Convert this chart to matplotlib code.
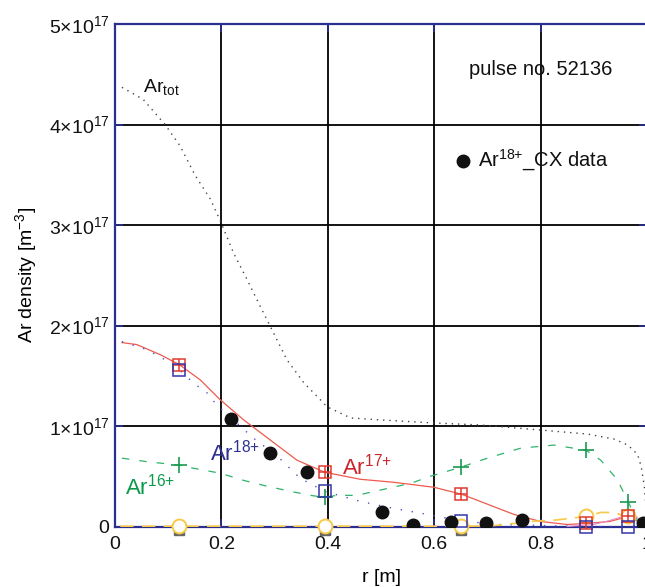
import matplotlib
matplotlib.use("Agg")
import matplotlib.pyplot as plt

plt.rcParams['font.family'] = ['Liberation Sans', 'DejaVu Sans']
plt.rcParams['mathtext.fontset'] = 'custom'
plt.rcParams['mathtext.rm'] = 'Liberation Sans'
plt.rcParams['mathtext.it'] = 'Liberation Sans:italic'
plt.rcParams['mathtext.bf'] = 'Liberation Sans:bold'

# ---------------- data (densities in units of 1e17 m^-3) ----------------
r_tot = [0.013, 0.053, 0.094, 0.122, 0.151, 0.179, 0.198, 0.223, 0.248, 0.273, 0.292,
         0.323, 0.355, 0.399, 0.443, 0.5, 0.6, 0.687, 0.8, 0.888, 0.938, 0.964,
         0.982, 0.989, 0.995, 0.998]
ar_tot = [4.37, 4.25, 4.0, 3.79, 3.49, 3.26, 3.04, 2.72, 2.46, 2.19, 1.99,
          1.66, 1.43, 1.19, 1.08, 1.06, 1.03, 1.01, 0.96, 0.92, 0.87, 0.81,
          0.72, 0.6, 0.4, 0.2]

r_17 = [0.013, 0.041, 0.085, 0.121, 0.16, 0.198, 0.242, 0.292, 0.342, 0.394, 0.461,
        0.524, 0.6, 0.652, 0.706, 0.75, 0.80, 0.85, 0.885, 0.93, 0.965, 0.99]
ar_17 = [1.83, 1.81, 1.71, 1.61, 1.46, 1.26, 1.06, 0.86, 0.66, 0.54, 0.47,
         0.44, 0.39, 0.32, 0.21, 0.12, 0.05, 0.02, 0.03, 0.05, 0.10, 0.03]

r_18 = [0.013, 0.06, 0.104, 0.121, 0.147, 0.173, 0.191, 0.235, 0.26, 0.305, 0.348,
        0.394, 0.461, 0.524, 0.593, 0.651, 0.72, 0.8, 0.885, 0.965, 0.99]
ar_18 = [1.84, 1.76, 1.63, 1.56, 1.43, 1.33, 1.21, 1.0, 0.88, 0.70, 0.48,
         0.35, 0.25, 0.18, 0.115, 0.055, 0.02, 0.01, 0.0, 0.0, 0.0]

r_16 = [0.013, 0.06, 0.104, 0.121, 0.147, 0.198, 0.241, 0.286, 0.33, 0.367, 0.394,
        0.417, 0.455, 0.505, 0.556, 0.593, 0.65, 0.70, 0.763, 0.825, 0.885, 0.913,
        0.945, 0.964, 0.985]
ar_16 = [0.68, 0.645, 0.62, 0.61, 0.58, 0.53, 0.46, 0.40, 0.35, 0.31, 0.29,
         0.31, 0.31, 0.37, 0.43, 0.50, 0.59, 0.68, 0.78, 0.81, 0.76, 0.66,
         0.46, 0.25, 0.03]

r_15 = [0.01, 0.12, 0.395, 0.65, 0.7, 0.725, 0.78, 0.83, 0.885, 0.913, 0.938, 0.965, 0.98, 0.995]
ar_15 = [0.003, 0.003, 0.003, 0.003, 0.005, 0.015, 0.05, 0.065, 0.10, 0.14, 0.14, 0.09, 0.05, 0.02]

r_14 = [0.85, 0.9, 0.93, 0.955, 0.975, 0.99]
ar_14 = [0.0, 0.02, 0.06, 0.10, 0.12, 0.05]

# marker grid positions of model profiles
r_mk = [0.121, 0.394, 0.651, 0.885, 0.965]
mk_17 = [1.61, 0.54, 0.32, 0.03, 0.10]
mk_18 = [1.56, 0.35, 0.055, 0.0, 0.0]
mk_16 = [0.61, 0.29, 0.59, 0.76, 0.24]
mk_15 = [0.003, 0.003, 0.003, 0.10, 0.10]
mk_0 = [-0.03, -0.03, -0.03]

# CX measured Ar18+
r_cx = [0.218, 0.292, 0.361, 0.501, 0.561, 0.631, 0.697, 0.765, 0.992]
ar_cx = [1.07, 0.73, 0.54, 0.14, 0.015, 0.04, 0.03, 0.06, 0.03]

yticks = [0, 1, 2, 3, 4, 5]
ytick_labels = ['0', r'1$\times$10$^{17}$', r'2$\times$10$^{17}$', r'3$\times$10$^{17}$',
                r'4$\times$10$^{17}$', r'5$\times$10$^{17}$']
xticks = [0, 0.2, 0.4, 0.6, 0.8, 1.0]
xtick_labels = ['0', '0.2', '0.4', '0.6', '0.8', '1']

# ---------------- figure ----------------
W, H = 645, 587
fig = plt.figure(figsize=(W / 100, H / 100), dpi=100)
ax = fig.add_axes([115 / W, 60.5 / H, 532 / W, 502.5 / H])

navy = '#2b2f8f'
c_tot = '#444444'
c17 = '#ee5a4f'
c18 = '#5050c8'
c16 = '#2fb36b'
c15 = '#f7c948'
c14 = '#e58ac8'

ax.plot(r_tot, ar_tot, color=c_tot, lw=1.0, ls=(0, (1, 3.5)), zorder=3)
ax.plot(r_17, ar_17, color=c17, lw=0.9, ls='-', zorder=3)
ax.plot(r_18, ar_18, color=c18, lw=1.0, ls=(0, (1, 7)), zorder=3)
ax.plot(r_16, ar_16, color=c16, lw=0.9, ls=(0, (6, 8)), zorder=3)
ax.plot(r_15, ar_15, color=c15, lw=1.2, ls=(0, (8, 5)), zorder=3)
ax.plot(r_14, ar_14, color=c14, lw=0.8, ls='-', zorder=3)

# markers
ax.plot(r_mk[:3], mk_0, ls='none', marker='s', ms=7, mfc='#666666', mec='#666666',
        zorder=2, clip_on=False)
ax.plot(r_mk, mk_15, ls='none', marker='o', ms=10, mfc='white', mec=c15, mew=1.4,
        zorder=4, clip_on=False)
ax.plot(r_mk, mk_16, ls='none', marker='+', ms=12, mec='#1a9a50', mew=1.2, zorder=5)
ax.plot(r_mk, mk_17, ls='none', marker='s', ms=9, mfc='none', mec='#e03a30', mew=1.1,
        zorder=5, clip_on=False)
ax.plot(r_mk, mk_17, ls='none', marker='+', ms=9, mec='#e03a30', mew=1.1, zorder=5,
        clip_on=False)
ax.plot(r_mk, mk_18, ls='none', marker='s', ms=9, mfc='none', mec='#3535a8', mew=1.1,
        zorder=6, clip_on=False)
ax.plot(r_cx, ar_cx, ls='none', marker='o', ms=9, mfc='#111111', mec='#111111', zorder=7)

ax.set_xlim(0, 1.0)
ax.set_ylim(0, 5)
ax.set_xticks(xticks)
ax.set_xticklabels(xtick_labels)
ax.set_yticks(yticks)
ax.set_yticklabels(ytick_labels)
ax.grid(True, color='black', lw=1.3, zorder=1)
ax.set_axisbelow(True)
for s in ax.spines.values():
    s.set_color(navy)
    s.set_linewidth(1.6)
ax.spines['right'].set_visible(False)
ax.tick_params(direction='in', length=6, width=1.2, color=navy, top=True, right=True,
               labelsize=14, labelcolor='#111111')
ax.tick_params(axis='x', pad=7)
ax.tick_params(axis='y', pad=4)

ax.set_xlabel('r [m]', fontsize=14, labelpad=11)
ax.set_ylabel(r'Ar density [m$^{-3}$]', fontsize=14)
ax.yaxis.set_label_coords(-0.142, 0.5)

# annotations
ax.text(0.053, 4.37, r'Ar$_{\rm tot}$', fontsize=14, color='#111111', va='center', ha='left')
ax.text(0.665, 4.55, 'pulse no. 52136', fontsize=14.5, color='#111111', va='center', ha='left')
ax.plot([0.655], [3.64], ls='none', marker='o', ms=9, mfc='#111111', mec='#111111')
ax.text(0.682, 3.64, r'Ar$^{18{+}}$_CX data', fontsize=14.5, color='#111111',
        va='center', ha='left')
ax.text(0.179, 0.74, r'Ar$^{18{+}}$', fontsize=16, color='#2e3192', va='center', ha='left')
ax.text(0.427, 0.60, r'Ar$^{17{+}}$', fontsize=16, color='#c8262c', va='center', ha='left')
ax.text(0.019, 0.40, r'Ar$^{16{+}}$', fontsize=16, color='#0a9a4a', va='center', ha='left')

fig.savefig('out.png', dpi=100)
